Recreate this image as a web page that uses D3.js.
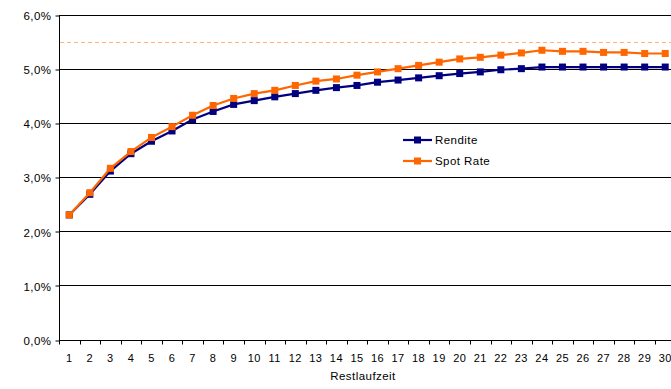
<!DOCTYPE html>
<html>
<head>
<meta charset="utf-8">
<script src="https://cdn.jsdelivr.net/npm/d3@7"></script>
<style>
  html, body { margin: 0; padding: 0; background: #fff; }
  svg { display: block; font-family: "Liberation Sans", Arial, sans-serif; }
  text { letter-spacing: 0.45px; }
</style>
</head>
<body>
<svg id="chart" width="671" height="389"></svg>
<script>
// Restlaufzeit in Jahren
const maturities = d3.range(1, 31);
// Rendite (%)
const rendite = [2.30, 2.68, 3.11, 3.43, 3.66, 3.85, 4.06, 4.21, 4.34, 4.41,
                 4.48, 4.54, 4.60, 4.65, 4.69, 4.75, 4.79, 4.83, 4.87, 4.91,
                 4.94, 4.98, 5.00, 5.03, 5.03, 5.03, 5.03, 5.03, 5.03, 5.03];
// Spot Rate (%)
const spotRate = [2.30, 2.71, 3.16, 3.47, 3.73, 3.93, 4.14, 4.32, 4.45, 4.54,
                  4.60, 4.69, 4.77, 4.81, 4.88, 4.94, 5.00, 5.06, 5.12, 5.18,
                  5.21, 5.25, 5.29, 5.34, 5.32, 5.32, 5.30, 5.30, 5.28, 5.28];
// Horizontale Referenzlinie (%)
const referenceLevel = 5.5;
const yTicks = [0, 1, 2, 3, 4, 5, 6];
const seriesNames = ["Rendite", "Spot Rate"];
const seriesColors = ["#000080", "#FF6600"];

const svg = d3.select("#chart");
const plotLeft = 59, plotTop = 14.5, plotBottom = 339.5, bandW = 20.55;

const x = d3.scaleBand()
  .domain(maturities)
  .range([plotLeft, plotLeft + bandW * maturities.length])
  .paddingInner(0).paddingOuter(0);
const y = d3.scaleLinear().domain([0, 6]).range([plotBottom, plotTop]);
const fmt = v => d3.format(".1f")(v).replace(".", ",") + "%";
const snap = v => Math.round(v) + 0.5;

// Gitternetzlinien
svg.append("g").selectAll("line").data(yTicks).join("line")
  .attr("x1", plotLeft).attr("x2", 671)
  .attr("y1", d => snap(y(d))).attr("y2", d => snap(y(d)))
  .attr("stroke", "#000").attr("stroke-width", 1);

// Y-Achse
const yAxis = svg.append("g")
  .attr("transform", `translate(${plotLeft + 0.5},0)`)
  .call(d3.axisLeft(y).tickValues(yTicks).tickFormat(fmt).tickSize(4).tickPadding(4));
yAxis.select(".domain").attr("stroke", "#000").attr("d", `M0,${snap(y(6))}V${snap(y(0))}`);
yAxis.selectAll(".tick line").attr("stroke", "#000")
  .attr("transform", d => `translate(0,${snap(y(d)) - y(d)})`);
yAxis.selectAll("text").attr("font-size", 11.5).attr("fill", "#000")
  .attr("dy", "0.42em")
  .attr("font-family", "'Liberation Sans', Arial, sans-serif");

// X-Achse
const xg = svg.append("g").attr("transform", `translate(0,${snap(plotBottom)})`);
const boundaries = d3.range(0, maturities.length + 1).map(i => plotLeft + i * bandW);
xg.selectAll("line.tk").data(boundaries).join("line").attr("class", "tk")
  .attr("x1", d => snap(d)).attr("x2", d => snap(d))
  .attr("y1", 0).attr("y2", 4).attr("stroke", "#000");
xg.selectAll("text").data(maturities).join("text")
  .attr("x", d => x(d) + x.bandwidth() / 2)
  .attr("y", 21)
  .attr("text-anchor", "middle")
  .attr("font-size", 11)
  .text(d => d);

svg.append("text")
  .attr("x", 363).attr("y", 380)
  .attr("text-anchor", "middle")
  .attr("font-size", 11.5)
  .text("Restlaufzeit");

// Referenzlinie
svg.append("line")
  .attr("x1", plotLeft + 1).attr("x2", 671)
  .attr("y1", snap(y(referenceLevel))).attr("y2", snap(y(referenceLevel)))
  .attr("stroke", "#FFB27A").attr("stroke-width", 1)
  .attr("stroke-dasharray", "4,3");

// Datenreihen
const cx = d => x(d) + x.bandwidth() / 2;
const line = d3.line().x(d => cx(d.m)).y(d => y(d.v));
[rendite, spotRate].forEach((vals, i) => {
  const pts = maturities.map((m, j) => ({ m, v: vals[j] }));
  const g = svg.append("g");
  g.append("path").datum(pts)
    .attr("d", line)
    .attr("fill", "none")
    .attr("stroke", seriesColors[i])
    .attr("stroke-width", 2.2);
  g.selectAll("rect").data(pts).join("rect")
    .attr("x", d => cx(d.m) - 3.5).attr("y", d => y(d.v) - 3.5)
    .attr("width", 7).attr("height", 7)
    .attr("fill", seriesColors[i]);
});

// Legende
const legend = svg.append("g");
seriesNames.forEach((name, i) => {
  const ly = 140 + i * 21;
  legend.append("line")
    .attr("x1", 403).attr("x2", 432).attr("y1", ly).attr("y2", ly)
    .attr("stroke", seriesColors[i]).attr("stroke-width", 2.2);
  legend.append("rect")
    .attr("x", 414).attr("y", ly - 3.5).attr("width", 7).attr("height", 7)
    .attr("fill", seriesColors[i]);
  legend.append("text")
    .attr("x", 435).attr("y", ly + 4)
    .attr("font-size", 11.5)
    .text(name);
});
</script>
</body>
</html>
